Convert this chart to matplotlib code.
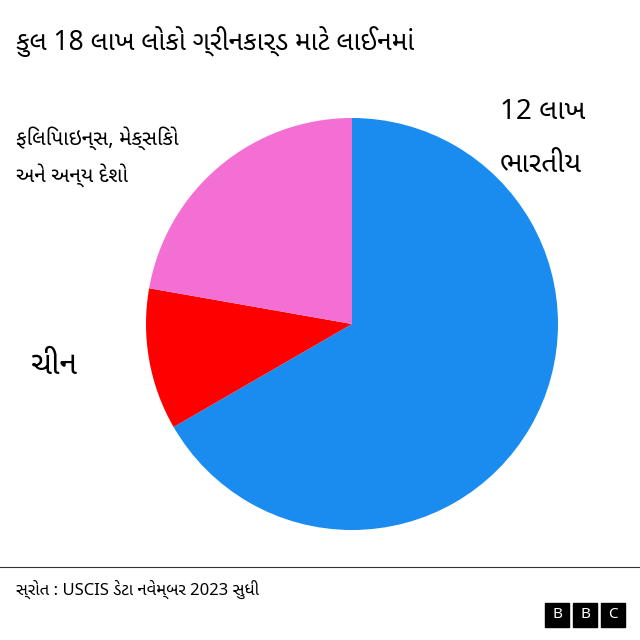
import matplotlib
matplotlib.use("Agg")
import matplotlib.pyplot as plt
from matplotlib import font_manager

labels = ["ભારતીય", "ચીન", "ફિલિપાઇન્સ, મેક્સિકો અને અન્ય દેશો"]
values = [12, 2, 4]  # lakh
colors = ["#1a8cf0", "#ff0000", "#f46fd3"]

installed = {f.name for f in font_manager.fontManager.ttflist}
fams = [f for f in ["Noto Sans Gujarati", "Lohit Gujarati", "Shruti", "Noto Sans"] if f in installed]
plt.rcParams["font.family"] = fams + ["DejaVu Sans"]

fig = plt.figure(figsize=(6.4, 6.4), dpi=100)
ax = fig.add_axes([146 / 640, 1 - 530 / 640, 412 / 640, 412 / 640])
ax.pie(values, colors=colors, startangle=90, counterclock=False,
       wedgeprops={"linewidth": 0})
ax.set_xlim(-1, 1)
ax.set_ylim(-1, 1)
ax.set_aspect("equal")

fig.text(16 / 640, 1 - 42 / 640, "કુલ 18 લાખ લોકો ગ્રીનકાર્ડ માટે લાઈનમાં",
         fontsize=19, fontweight="bold", va="center")
fig.text(500 / 640, 1 - 112 / 640, "12 લાખ", fontsize=20, va="center")
fig.text(500 / 640, 1 - 165 / 640, "ભારતીય", fontsize=20, va="center")
fig.text(16 / 640, 1 - 138 / 640, "ફિલિપાઇન્સ, મેક્સિકો", fontsize=15, va="center")
fig.text(16 / 640, 1 - 175 / 640, "અને અન્ય દેશો", fontsize=15, va="center")
fig.text(30 / 640, 1 - 365 / 640, "ચીન", fontsize=23, va="center")

fig.add_artist(plt.Line2D([0, 1], [1 - 567 / 640] * 2, color="#333333", lw=0.8))
fig.text(16 / 640, 1 - 580 / 640, "સ્રોત : USCIS ડેટા નવેમ્બર 2023 સુધી",
         fontsize=12, va="top")

for i, ch in enumerate("BBC"):
    x0 = (545 + i * 28) / 640
    fig.patches.append(plt.Rectangle((x0, 1 - 627 / 640), 24 / 640, 24 / 640,
                                     color="black", transform=fig.transFigure))
    fig.text(x0 + 12 / 640, 1 - 615 / 640, ch, color="white", fontsize=11,
             fontweight="bold", ha="center", va="center")

fig.savefig("out.png", dpi=100)
